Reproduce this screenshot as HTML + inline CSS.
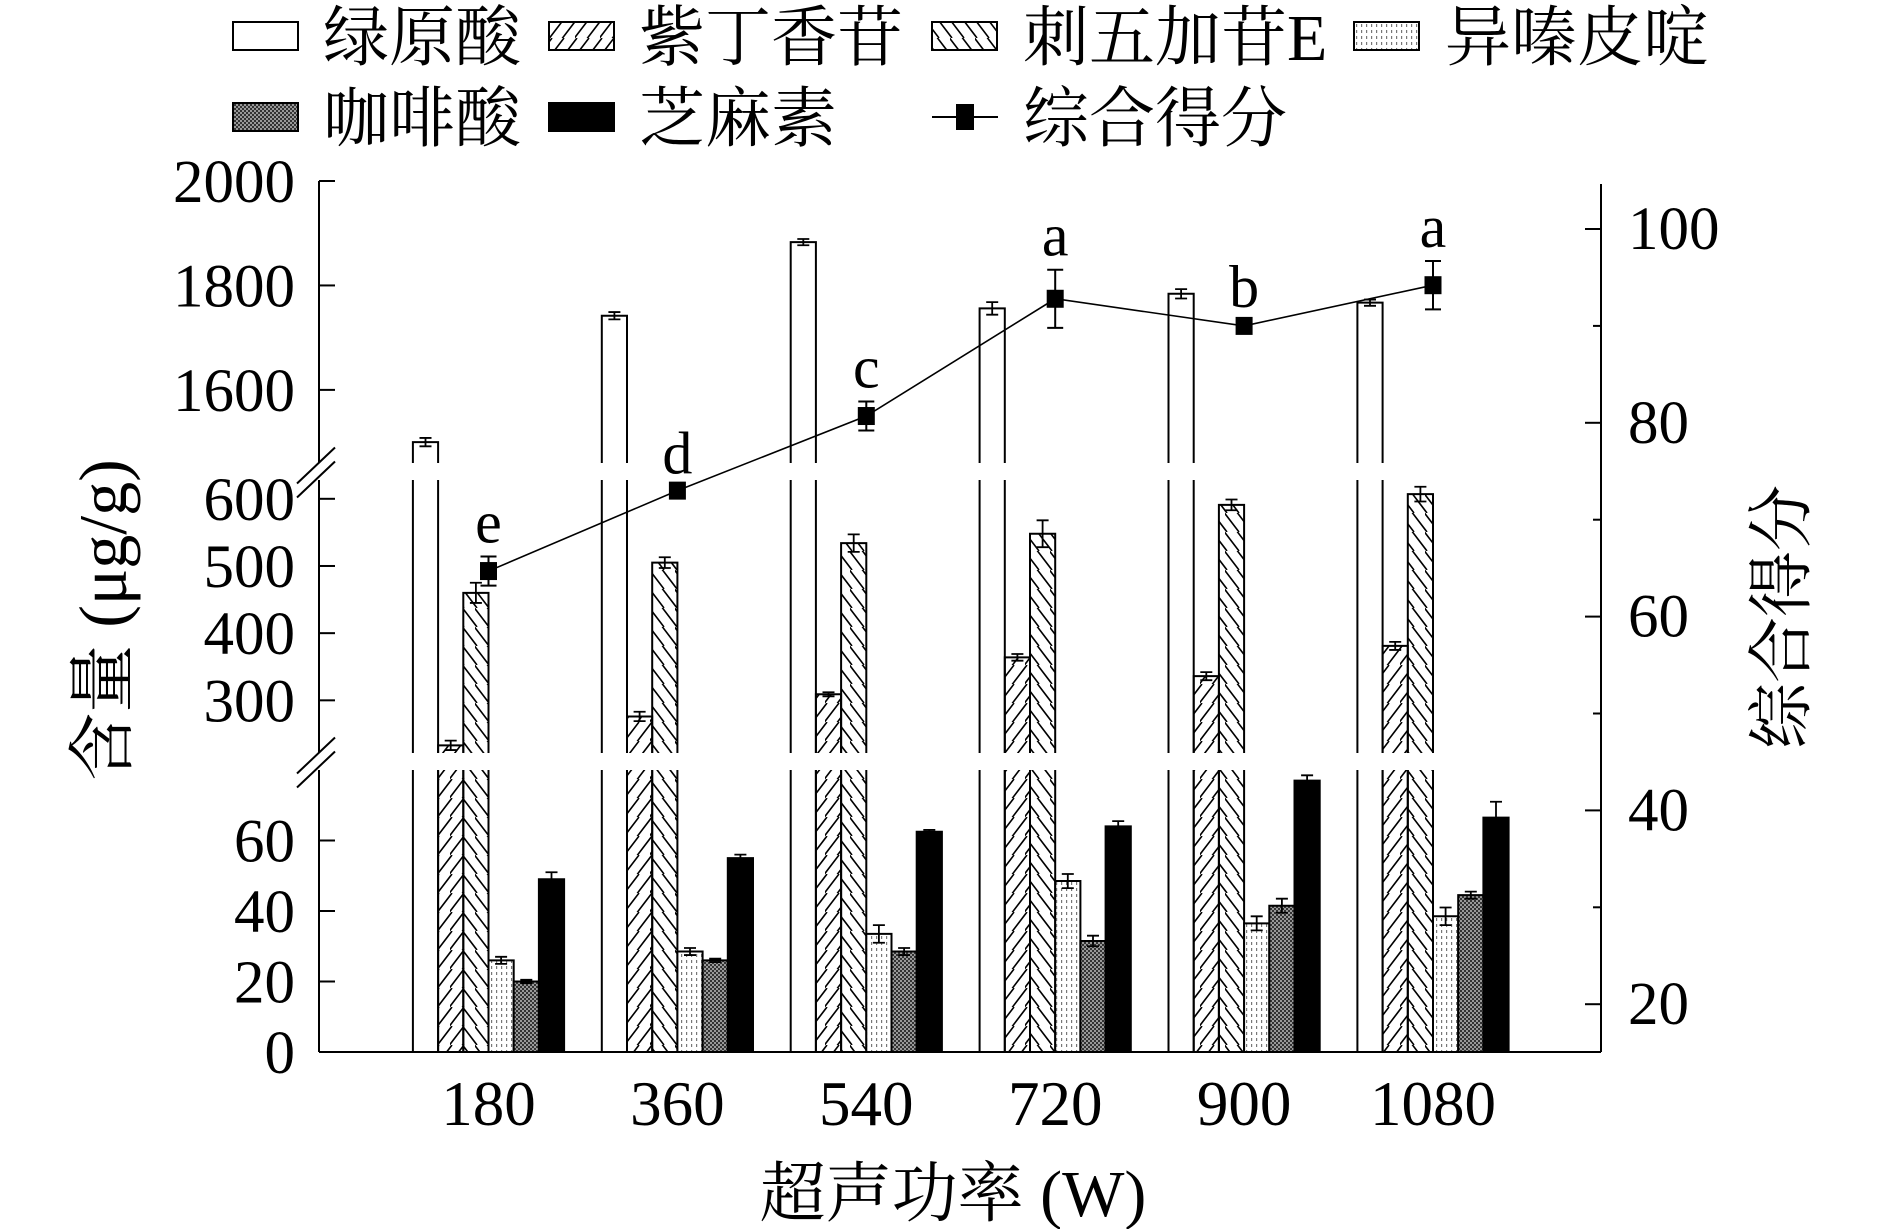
<!DOCTYPE html>
<html><head><meta charset="utf-8"><style>
html,body{margin:0;padding:0;background:#fff;}
svg{display:block;}
text{font-family:"Liberation Serif","Noto Serif CJK SC",serif;fill:#000;}
</style></head><body>
<svg id="chart" width="1890" height="1229" viewBox="0 0 1890 1229" xmlns="http://www.w3.org/2000/svg">
<defs>
<pattern id="pFwd" patternUnits="userSpaceOnUse" width="25" height="19">
<path d="M-2,21 L14,0 M11,21 L27,0 M-14,21 L2,0" stroke="#000" stroke-width="1.6" fill="none"/>
</pattern>
<pattern id="pBack" patternUnits="userSpaceOnUse" width="25" height="19">
<path d="M-2,-2 L14,19 M11,-2 L27,19 M-14,-2 L2,19" stroke="#000" stroke-width="1.6" fill="none"/>
</pattern>
<pattern id="pDot" patternUnits="userSpaceOnUse" width="5" height="6">
<rect x="0" y="0" width="5" height="6" fill="#fff"/>
<rect x="1" y="0" width="1.2" height="3" fill="#777"/>
</pattern>
<pattern id="pChk" patternUnits="userSpaceOnUse" width="4" height="4">
<rect x="0" y="0" width="4" height="4" fill="#333"/>
<rect x="0" y="0" width="2" height="2" fill="#999"/>
<rect x="2" y="2" width="2" height="2" fill="#999"/>
</pattern>
</defs>
<g id="legend"></g>
<g id="plot"></g>
</svg>
<script>
const categories = ["180","360","540","720","900","1080"];
const seriesNames = ["绿原酸","紫丁香苷","刺五加苷E","异嗪皮啶","咖啡酸","芝麻素"];
const chlorogenic = [1500,1742,1883,1756,1784,1767];
const chlorogenicErr = [8,7,6,12,9,6];
const syringin = [233,276,309,364,336,381];
const syringinErr = [7,7,3,5,6,6];
const eleutheroside = [460,505,534,548,591,607];
const eleutherosideErr = [15,8,13,20,8,11];
const isofraxidin = [26,28.5,33.5,48.5,36.5,38.5];
const isofraxidinErr = [1,1,2.5,2,2,2.5];
const caffeic = [20,26,28.5,31.5,41.5,44.5];
const caffeicErr = [0.5,0.5,1,1.5,2,1];
const sesamin = [49,55,62.5,64,77,66.5];
const sesaminErr = [2,1,0.5,1.5,1.5,4.5];
const score = [64.7,73.0,80.7,92.8,90.0,94.2];
const scoreErr = [1.5,0.3,1.5,3,0.5,2.5];
const scoreLetters = ["e","d","c","a","b","a"];
const leftTicksTop = [2000,1800,1600];
const leftTicksMid = [600,500,400,300];
const leftTicksBot = [60,40,20,0];
const rightTicks = [20,30,40,50,60,70,80,90,100];
const rightLabels = [20,40,60,80,100];

const NS="http://www.w3.org/2000/svg";
const plot=document.getElementById('plot');
const legend=document.getElementById('legend');
function mk(tag,attrs,parent){const e=document.createElementNS(NS,tag);for(const k in attrs)e.setAttribute(k,attrs[k]);(parent||plot).appendChild(e);return e;}

const X0=319, X1=1601, YB=1052;
const segs=[
 {lo:0,hi:80,y0:1052,y1:770},
 {lo:221.6,hi:628,y0:753,y1:480},
 {lo:1460,hi:2000,y0:463,y1:181}
];
function segY(s,v){return s.y0+(v-s.lo)*(s.y1-s.y0)/(s.hi-s.lo);}
function segOf(v){for(let i=segs.length-1;i>=0;i--){if(v>=segs[i].lo&&v<=segs[i].hi)return segs[i];}return null;}
function yRight(v){return 229+(100-v)*9.69;}
const groupStep=(1433-488.5)/5;
function xCenter(i){return 488.5+i*groupStep;}
const BW=25.2;

const allSeries=[
 {vals:chlorogenic,err:chlorogenicErr,fill:'#fff',name:'chlorogenic-acid'},
 {vals:syringin,err:syringinErr,fill:'url(#pFwd)',name:'syringin'},
 {vals:eleutheroside,err:eleutherosideErr,fill:'url(#pBack)',name:'eleutheroside-e'},
 {vals:isofraxidin,err:isofraxidinErr,fill:'url(#pDot)',name:'isofraxidin'},
 {vals:caffeic,err:caffeicErr,fill:'url(#pChk)',name:'caffeic-acid'},
 {vals:sesamin,err:sesaminErr,fill:'#000',name:'sesamin'}
];
allSeries.forEach((s,si)=>{
 s.vals.forEach((v,ci)=>{
  const x=xCenter(ci)-3*BW+si*BW;
  const g=mk('g',{});
  
  
  segs.forEach(sg=>{
   if(v<=sg.lo)return;
   const top=Math.min(v,sg.hi);
   const yt=segY(sg,top), yb=sg.y0;
   mk('rect',{x:x,y:yt,width:BW,height:yb-yt,fill:s.fill},g);
   let d='M'+x+','+yb+' L'+x+','+yt;
   if(v<=sg.hi)d+=' L'+(x+BW)+','+yt;else d+=' M'+(x+BW)+','+yt;
   d+=' L'+(x+BW)+','+yb;
   mk('path',{d:d,stroke:'#000','stroke-width':2,fill:'none'},g);
  });
  const sg=segOf(v);
  if(sg){
   const cx=x+BW/2, ya=segY(sg,Math.min(v+s.err[ci],sg.hi)), yb2=segY(sg,Math.max(v-s.err[ci],sg.lo));
   mk('path',{d:'M'+cx+','+ya+' L'+cx+','+yb2+' M'+(cx-6)+','+ya+' L'+(cx+6)+','+ya+' M'+(cx-6)+','+yb2+' L'+(cx+6)+','+yb2,stroke:'#000','stroke-width':1.8,fill:'none'},g);
  }
 });
});

const ax=mk('g',{});


segs.forEach(sg=>{mk('line',{x1:X0,y1:sg.y0,x2:X0,y2:sg.y1,stroke:'#000','stroke-width':2},ax);});
[[463,480],[753,770]].forEach(b=>{
 const m=(b[0]+b[1])/2;
 mk('line',{x1:X0-22,y1:m+12,x2:X0+16,y2:m-24,stroke:'#000','stroke-width':2},ax);
 mk('line',{x1:X0-22,y1:m+26,x2:X0+16,y2:m-10,stroke:'#000','stroke-width':2},ax);
});
function leftTick(v,sg){
 const y=segY(sg,v);
 mk('line',{x1:X0,y1:y,x2:X0+16,y2:y,stroke:'#000','stroke-width':2},ax);
 const t=mk('text',{x:X0-24,y:y+21,'text-anchor':'end','font-size':61},ax);
 t.textContent=v;
 
 
}
leftTicksTop.forEach(v=>leftTick(v,segs[2]));
leftTicksMid.forEach(v=>leftTick(v,segs[1]));
leftTicksBot.forEach(v=>leftTick(v,segs[0]));

const xa=mk('g',{});


mk('line',{x1:X0,y1:YB,x2:X1,y2:YB,stroke:'#000','stroke-width':2},xa);
categories.forEach((c,i)=>{
 const t=mk('text',{x:xCenter(i),y:1125,'text-anchor':'middle','font-size':63},xa);
 t.textContent=c;
 
 
});

const ra=mk('g',{});


mk('line',{x1:X1,y1:184,x2:X1,y2:YB,stroke:'#000','stroke-width':2},ra);
rightTicks.forEach(v=>{
 const y=yRight(v);const major=rightLabels.indexOf(v)>=0;
 mk('line',{x1:X1-(major?16:8),y1:y,x2:X1,y2:y,stroke:'#000','stroke-width':2},ra);
});
rightLabels.forEach(v=>{
 const t=mk('text',{x:1628,y:yRight(v)+20,'font-size':61},ra);
 t.textContent=v;
 
 
});

const sl=mk('g',{});


mk('polyline',{points:score.map((v,i)=>xCenter(i)+','+yRight(v)).join(' '),fill:'none',stroke:'#000','stroke-width':1.6},sl);
score.forEach((v,i)=>{
 const cx=xCenter(i), cy=yRight(v);
 const ya=yRight(v+scoreErr[i]), yb=yRight(v-scoreErr[i]);
 mk('path',{d:'M'+cx+','+ya+' L'+cx+','+yb+' M'+(cx-8)+','+ya+' L'+(cx+8)+','+ya+' M'+(cx-8)+','+yb+' L'+(cx+8)+','+yb,stroke:'#000','stroke-width':2,fill:'none'},sl);
 const r=mk('rect',{x:cx-8.5,y:cy-9,width:17,height:18,fill:'#000'},sl);
 
 
 const t=mk('text',{x:cx,y:ya-14,'text-anchor':'middle','font-size':60},sl);
 t.textContent=scoreLetters[i];
 
 
});

const yt=mk('text',{x:0,y:0,'text-anchor':'middle','font-size':68,transform:'translate(126,620) rotate(-90)'});
yt.textContent='含量 (μg/g)';


const rt=mk('text',{x:0,y:0,'text-anchor':'middle','font-size':66,transform:'translate(1804,617) rotate(-90)'});
rt.textContent='综合得分';


const xt=mk('text',{x:953,y:1216,'text-anchor':'middle','font-size':66});
xt.textContent='超声功率 (W)';



const legItems=[
 {bx:233,tx:323,row:0,fill:'#fff',label:seriesNames[0]},
 {bx:549,tx:639,row:0,fill:'url(#pFwd)',label:seriesNames[1]},
 {bx:932,tx:1023,row:0,fill:'url(#pBack)',label:seriesNames[2]},
 {bx:1354,tx:1445,row:0,fill:'url(#pDot)',label:seriesNames[3]},
 {bx:233,tx:323,row:1,fill:'url(#pChk)',label:seriesNames[4]},
 {bx:549,tx:639,row:1,fill:'#000',label:seriesNames[5]},
 {bx:932,tx:1023,row:1,fill:null,label:'综合得分'}
];
legItems.forEach(it=>{
 const cy=it.row===0?36:117;
 const g=mk('g',{},legend);
 
 
 if(it.fill){
  mk('rect',{x:it.bx,y:cy-14,width:65,height:28,fill:it.fill,stroke:'#000','stroke-width':2},g);
 }else{
  mk('line',{x1:it.bx,y1:cy,x2:it.bx+66,y2:cy,stroke:'#000','stroke-width':2},g);
  mk('rect',{x:it.bx+24,y:cy-13,width:18,height:26,fill:'#000'},g);
 }
 const t=mk('text',{x:it.tx,y:cy+24,'font-size':66},g);
 t.textContent=it.label;
});
</script>
</body></html>
